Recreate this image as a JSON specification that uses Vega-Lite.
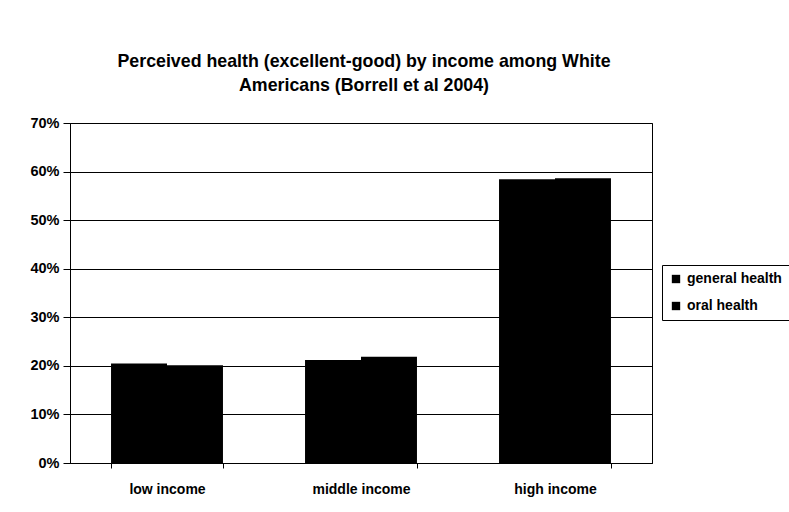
{
  "$schema": "https://vega.github.io/schema/vega-lite/v6.json",
  "autosize": "none",
  "width": 582,
  "height": 340,
  "padding": {"left": 70, "top": 123, "right": 137, "bottom": 49},
  "background": "white",
  "title": {
    "text": ["Perceived health (excellent-good) by income among White", "Americans (Borrell et al 2004)"],
    "font": "Liberation Sans",
    "fontSize": 17.8,
    "fontWeight": "bold",
    "color": "black",
    "anchor": "middle",
    "dx": 3,
    "offset": 20,
    "lineHeight": 24
  },
  "data": {
    "values": [
      {"income": "low income", "measure": "general health", "pct": 0.205},
      {"income": "low income", "measure": "oral health", "pct": 0.201},
      {"income": "middle income", "measure": "general health", "pct": 0.212},
      {"income": "middle income", "measure": "oral health", "pct": 0.219},
      {"income": "high income", "measure": "general health", "pct": 0.584},
      {"income": "high income", "measure": "oral health", "pct": 0.586}
    ]
  },
  "mark": {"type": "bar"},
  "encoding": {
    "x": {
      "field": "income",
      "type": "nominal",
      "sort": ["low income", "middle income", "high income"],
      "scale": {"paddingInner": 0.423, "paddingOuter": 0.2115},
      "axis": {
        "title": null,
        "labelAngle": 0,
        "tickBand": "extent",
        "labelFont": "Liberation Sans",
        "labelFontSize": 14,
        "labelFontWeight": "bold",
        "labelColor": "black",
        "labelPadding": 14,
        "tickSize": 5,
        "tickColor": "black",
        "domainColor": "black"
      }
    },
    "xOffset": {"field": "measure", "type": "nominal", "sort": ["general health", "oral health"], "scale": {"paddingInner": 0, "paddingOuter": 0}},
    "y": {
      "field": "pct",
      "type": "quantitative",
      "scale": {"domain": [0, 0.7], "nice": false},
      "axis": {
        "title": null,
        "format": ".0%",
        "values": [0, 0.1, 0.2, 0.3, 0.4, 0.5, 0.6, 0.7],
        "labelFont": "Liberation Sans",
        "labelFontSize": 14.5,
        "labelFontWeight": "bold",
        "labelColor": "black",
        "labelPadding": 4,
        "tickSize": 7,
        "tickColor": "black",
        "domainColor": "black",
        "grid": true,
        "gridColor": "black",
        "gridOpacity": 1
      }
    },
    "color": {
      "field": "measure",
      "type": "nominal",
      "sort": ["general health", "oral health"],
      "scale": {"range": ["black", "black"]},
      "legend": {
        "title": null,
        "orient": "none",
        "legendX": 592,
        "legendY": 142,
        "padding": 7,
        "rowPadding": 13,
        "symbolType": "square",
        "symbolSize": 70,
        "symbolStrokeWidth": 0,
        "symbolOffset": 0,
        "labelOffset": 4,
        "labelFont": "Liberation Sans",
        "labelFontSize": 14,
        "labelFontWeight": "bold",
        "labelColor": "black",
        "strokeColor": "black",
        "fillColor": "white"
      }
    }
  },
  "config": {
    "view": {"stroke": "black", "strokeWidth": 1},
    "axis": {"domainWidth": 1, "gridWidth": 1}
  }
}
